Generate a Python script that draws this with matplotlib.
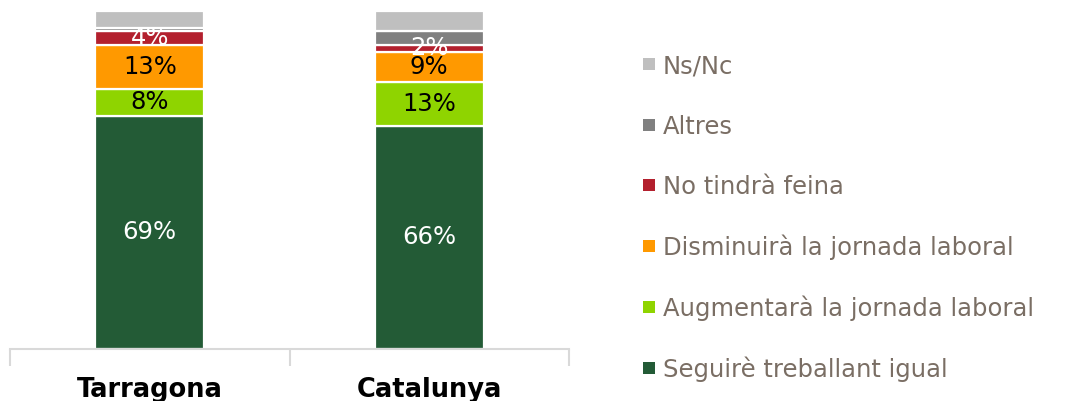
import matplotlib.pyplot as plt
from matplotlib.patches import Rectangle

plt.rcParams["font.family"] = ["DejaVu Sans"]

regions = ["Tarragona", "Catalunya"]
series = [
    "Seguirè treballant igual",
    "Augmentarà la jornada laboral",
    "Disminuirà la jornada laboral",
    "No tindrà feina",
    "Altres",
    "Ns/Nc",
]
seguira = [69, 66]
augmentara = [8, 13]
disminuira = [13, 9]
no_feina = [4, 2]
altres = [1, 4]
ns_nc = [5, 6]
values = [seguira, augmentara, disminuira, no_feina, altres, ns_nc]

colors = ["#235b36", "#8fd400", "#ff9900", "#b3202e", "#808080", "#bfbfbf"]
label_colors = ["white", "black", "black", "white", None, None]

W, H = 1068, 401


def main() -> None:
    fig = plt.figure(figsize=(W / 100, H / 100), dpi=100)
    ax = fig.add_axes([10 / W, 52 / H, 559 / W, 338 / H])

    x = list(range(len(regions)))
    bottom = [0.0] * len(regions)
    for name, vals, col, lcol in zip(series, values, colors, label_colors):
        ax.bar(x, vals, width=0.39, bottom=bottom, color=col,
               edgecolor="white", linewidth=1.6, label=name)
        if lcol is not None:
            for xi, b, v in zip(x, bottom, vals):
                ax.text(xi, b + v / 2, f"{v}%", ha="center", va="center",
                        fontsize=17.5, color=lcol)
        bottom = [b + v for b, v in zip(bottom, vals)]

    ax.set_xlim(-0.5, 1.5)
    ax.set_ylim(0, 100)
    ax.set_yticks([])
    for side in ("left", "right", "top"):
        ax.spines[side].set_visible(False)
    ax.spines["bottom"].set_color("#d9d9d9")
    ax.spines["bottom"].set_linewidth(1.5)

    # category separators below the axis
    ax.set_xticks([-0.5, 0.5, 1.5])
    ax.set_xticklabels([])
    ax.tick_params(axis="x", length=12, width=1.5, color="#d9d9d9")
    for xi, name in zip(x, regions):
        ax.text(xi, -14.2, name, ha="center", va="baseline", fontsize=18.5,
                fontweight="bold", color="black", clip_on=False)

    # legend, top entry first
    for i, (name, col) in enumerate(zip(series[::-1], colors[::-1])):
        cy = 64 + i * 60.7
        fig.add_artist(Rectangle((643 / W, 1 - (cy + 6) / H), 12 / W, 12 / H,
                                 transform=fig.transFigure, facecolor=col,
                                 edgecolor="none"))
        fig.text(663 / W, 1 - (cy + 9) / H, name, ha="left", va="baseline",
                 fontsize=17.5, color="#7a6e64")

    fig.savefig("out.png", dpi=100)


if __name__ == "__main__":
    main()
